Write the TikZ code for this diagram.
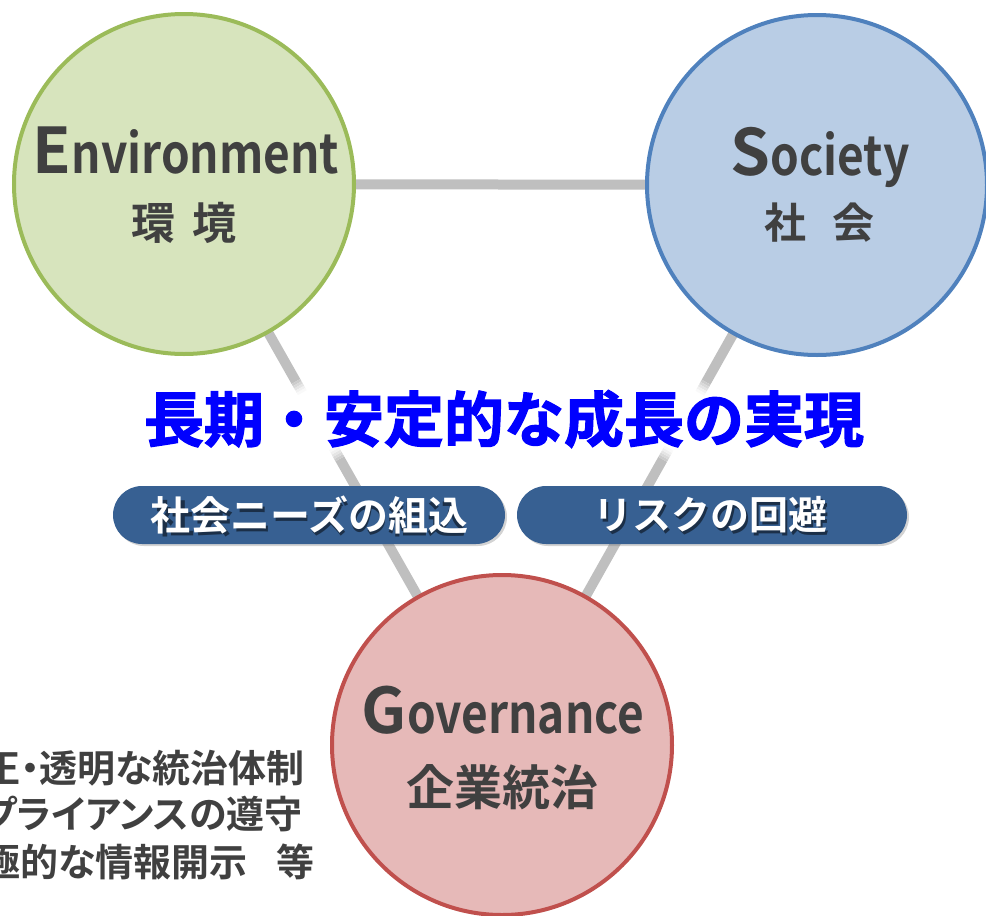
\documentclass[tikz,border=0pt]{standalone}
\usepackage{fontspec}
\setmainfont{Noto Sans CJK JP}[BoldFont={Noto Sans CJK JP Bold}]
\newfontfamily\jpp{Noto Sans CJK JP}[BoldFont={Noto Sans CJK JP Bold},RawFeature=+palt]
\newfontfamily\jpheavy{Noto Sans CJK JP Bold}[FakeBold=2]
\usetikzlibrary{shadows,calc}
\definecolor{envfill}{RGB}{215,228,189}
\definecolor{envline}{RGB}{155,187,89}
\definecolor{socfill}{RGB}{185,205,229}
\definecolor{socline}{RGB}{79,129,189}
\definecolor{govfill}{RGB}{230,185,184}
\definecolor{govline}{RGB}{192,80,77}
\definecolor{connc}{RGB}{191,191,191}
\definecolor{txtc}{RGB}{64,64,64}
\definecolor{pillc}{RGB}{55,96,146}
\definecolor{titlec}{RGB}{0,0,255}
\pgfdeclarelayer{bg}
\pgfsetlayers{bg,main}
\newcommand{\lc}[1]{\scalebox{1}[1.18]{#1}}
\tikzset{
  bubble/.style={circle, minimum size=340pt, inner sep=0pt, line width=4pt},
  conn/.style={draw=connc, line width=10pt},
  bigw/.style={font=\bfseries\fontsize{46}{46}\selectfont, text=txtc, inner sep=0pt, anchor=base},
  jpw/.style={font=\bfseries\fontsize{42}{42}\selectfont, text=txtc, inner sep=0pt},
  titlestyle/.style={font=\jpheavy\fontsize{60}{60}\selectfont, inner sep=0pt},
  pill/.style={rectangle, rounded corners=29pt, minimum width=392pt, minimum height=58pt, fill=pillc, inner sep=0pt,
    drop shadow={shadow xshift=2pt, shadow yshift=-2pt, opacity=0.35}},
  pilltext/.style={font=\bfseries\fontsize{39}{39}\selectfont, text=white, inner sep=0pt},
  notetext/.style={font=\jpp\bfseries\fontsize{38}{38}\selectfont, text=txtc, inner sep=0pt, anchor=east}
}
\begin{document}
\begin{tikzpicture}[x=1pt,y=-1pt]
\useasboundingbox (0,0) rectangle (986,916);
% circles
\node[bubble, draw=envline, fill=envfill] (env) at (184,184) {};
\node[bubble, draw=socline, fill=socfill] (soc) at (817,185) {};
\node[bubble, draw=govline, fill=govfill] (gov) at (502,745) {};
% points where the lines fade behind the title
\coordinate (eg1) at ($(env.center)!0.352!(gov.center)$);
\coordinate (eg2) at ($(env.center)!0.490!(gov.center)$);
\coordinate (sg1) at ($(soc.center)!0.352!(gov.center)$);
\coordinate (sg2) at ($(soc.center)!0.490!(gov.center)$);
% connectors
\begin{pgfonlayer}{bg}
\draw[conn] (env.center) -- (soc.center);
\draw[conn] (env.center) -- (eg1);
\draw[conn] (eg2) -- (gov.center);
\draw[conn] (soc.center) -- (sg1);
\draw[conn] (sg2) -- (gov.center);
\foreach \k/\m in {0/80,1/60,2/40,3/22,4/10}{
  \draw[draw=connc!\m!white, line width=10pt]
    ($(env.center)!{0.352+0.004*\k}!(gov.center)$) -- ($(env.center)!{0.356+0.004*\k}!(gov.center)$);
  \draw[draw=connc!\m!white, line width=10pt]
    ($(env.center)!{0.490-0.004*\k}!(gov.center)$) -- ($(env.center)!{0.486-0.004*\k}!(gov.center)$);
  \draw[draw=connc!\m!white, line width=10pt]
    ($(soc.center)!{0.352+0.004*\k}!(gov.center)$) -- ($(soc.center)!{0.356+0.004*\k}!(gov.center)$);
  \draw[draw=connc!\m!white, line width=10pt]
    ($(soc.center)!{0.490-0.004*\k}!(gov.center)$) -- ($(soc.center)!{0.486-0.004*\k}!(gov.center)$);
}
\end{pgfonlayer}
% circle labels
\node[bigw] (envt) at (186,173) {{\fontsize{63}{63}\selectfont E}\lc{nvironment}};
\node[jpw, font=\bfseries\fontsize{44}{44}\selectfont] (envj) at (184,223) {環\hspace{18pt}境};
\node[bigw] (soct) at (820,175) {{\fontsize{64}{64}\selectfont S}\lc{ociety}};
\node[jpw] (socj) at (819,223) {社\hspace{26pt}会};
\node[bigw] (govt) at (503,733) {{\fontsize{63}{63}\selectfont G}\lc{overnance}};
\node[jpw, font=\bfseries\fontsize{48}{48}\selectfont] (govj) at (502,787) {企業統治};
% title
\node[titlestyle, text=titlec] (title) at (504,419) {長期・安定的な成長の実現};
% pills
\node[pill] (pillL) at (309,515) {};
\node[pill, minimum width=390pt] (pillR) at (712,515) {};
\node[pilltext, text=black, opacity=0.5] (pillLs) at (311,518) {社会ニーズの組込};
\node[pilltext, font=\bfseries\fontsize{40}{40}\selectfont] (pillLt) at (pillL.center) {社会ニーズの組込};
\node[pilltext, text=black, opacity=0.5] (pillRs) at (712,518) {リスクの回避};
\node[pilltext] (pillRt) at (710,515) {リスクの回避};
% notes
\node[notetext] (n1) at (305,768) {公正・透明な統治体制};
\node[notetext] (n2) at (303,814) {コンプライアンスの遵守};
\node[notetext] (n3) at (315,862) {積極的な情報開示\hspace{29pt}等};
\end{tikzpicture}
\end{document}
